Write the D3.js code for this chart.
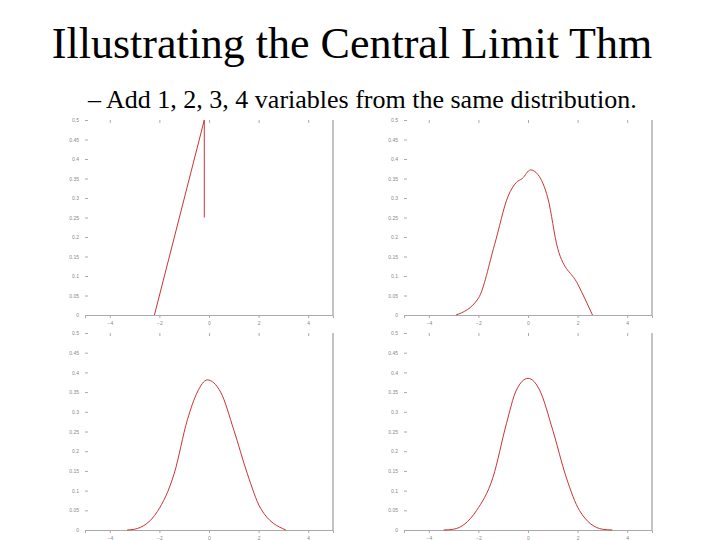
<!DOCTYPE html>
<html><head><meta charset="utf-8">
<script src="https://cdn.jsdelivr.net/npm/d3@7"></script>
<style>body{margin:0;background:#fff}</style>
</head><body>
<svg id="chart" width="720" height="540"></svg>
<script>
// values: [x, density]
const sum1 = [[-2.2, 0], [-0.19, 0.5], [-0.19, 0.25]];
const sum2 = [[-2.9, 0], [-2.0, 0.043], [-1.35, 0.18], [-0.8, 0.305], [-0.47, 0.34], [-0.23, 0.35],
  [0.1, 0.372], [0.4, 0.36], [0.8, 0.30], [1.2, 0.17], [2.0, 0.08], [2.6, 0]];
const sum3 = [[-3.3, 0], [-3, 0.002], [-2.08, 0.047], [-1.4, 0.144], [-0.87, 0.28], [-0.47, 0.35], [-0.07, 0.381],
  [0.47, 0.35], [1.0, 0.254], [1.54, 0.144], [2.08, 0.055], [3.1, 0]];
const sum4 = [[-3.4, 0], [-3.0, 0.002], [-2.08, 0.049], [-1.41, 0.134], [-0.87, 0.27], [-0.47, 0.355], [0, 0.385],
  [0.47, 0.355], [1.0, 0.253], [1.54, 0.134], [2.08, 0.049], [3.0, 0.002], [3.4, 0]];
const xTicks = [-4, -2, 0, 2, 4];
const yTicks = [0, 0.05, 0.1, 0.15, 0.2, 0.25, 0.3, 0.35, 0.4, 0.45, 0.5];

const svg = d3.select("#chart");
svg.append("text").attr("x", 352).attr("y", 58).attr("text-anchor", "middle")
  .attr("font-family", "Liberation Serif").attr("font-size", 44).text("Illustrating the Central Limit Thm");
svg.append("text").attr("x", 88).attr("y", 108)
  .attr("font-family", "Liberation Serif").attr("font-size", 26)
  .text("– Add 1, 2, 3, 4 variables from the same distribution.");

const panels = [
  {data: sum1, left: 85, top: 120, bottom: 315, curve: d3.curveLinear},
  {data: sum2, left: 404, top: 120, bottom: 315, curve: d3.curveMonotoneX},
  {data: sum3, left: 85, top: 333, bottom: 530, curve: d3.curveMonotoneX},
  {data: sum4, left: 404, top: 333, bottom: 530, curve: d3.curveMonotoneX}
];

panels.forEach(p => {
  const x = d3.scaleLinear().domain([-5, 5]).range([p.left, p.left + 248]);
  const y = d3.scaleLinear().domain([0, 0.5]).range([p.bottom, p.top]);
  const g = svg.append("g").attr("font-family", "DejaVu Sans").attr("fill", "#999");

  const ax = g.append("g").attr("transform", `translate(0,${p.bottom})`)
    .call(d3.axisBottom(x).tickValues(xTicks).tickSize(3).tickFormat(d3.format("d")));
  const axTop = g.append("g").attr("transform", `translate(0,${p.top})`)
    .call(d3.axisBottom(x).tickValues(xTicks).tickSize(3).tickFormat(""));
  const ay = g.append("g").attr("transform", `translate(${p.left},0)`)
    .call(d3.axisRight(y).tickValues(yTicks).tickSize(3).tickFormat(d => d === 0 ? "0" : d3.format(".2~f")(d)));
  ay.selectAll("text").attr("x", -6).attr("text-anchor", "end");
  [ax, axTop, ay].forEach(a => {
    a.selectAll("text").attr("fill", "#888").attr("font-size", 5);
    a.selectAll("line").attr("stroke", "#aaa");
  });
  axTop.select(".domain").remove();
  ay.select(".domain").remove();
  ax.select(".domain").attr("stroke", "#aaa");
  g.append("line").attr("x1", p.left + 248).attr("x2", p.left + 248)
    .attr("y1", p.top).attr("y2", p.bottom).attr("stroke", "#888");

  svg.append("path").datum(p.data)
    .attr("d", d3.line().x(d => x(d[0])).y(d => y(d[1])).curve(p.curve))
    .attr("fill", "none").attr("stroke", "#c33").attr("stroke-width", 1);
});
</script>
</body></html>
